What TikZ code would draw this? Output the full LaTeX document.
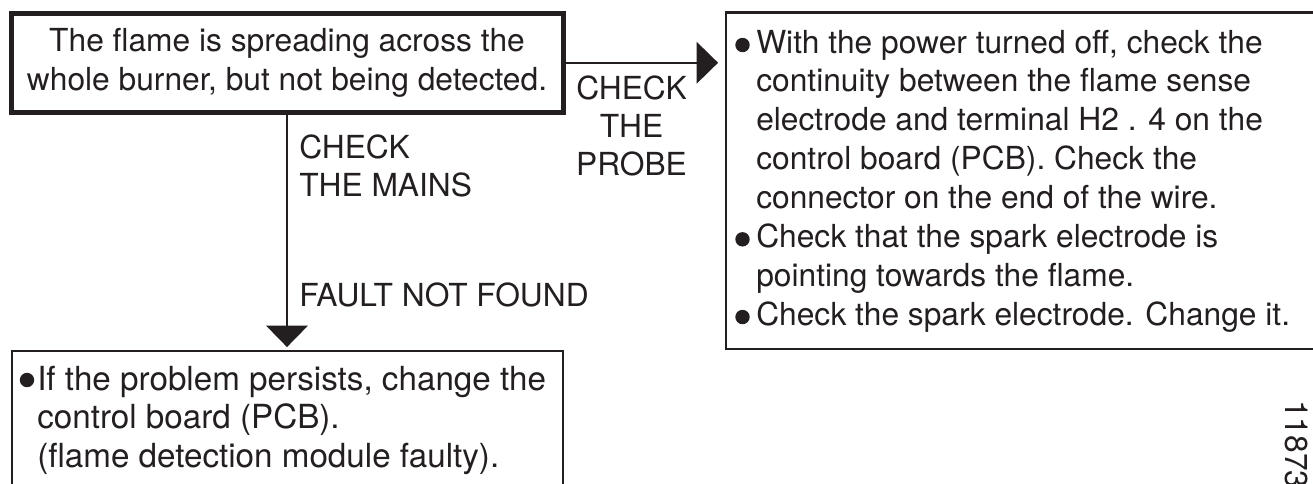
\documentclass[tikz,border=0pt]{standalone}
\usepackage{fontspec}
\setmainfont{TeX Gyre Heros}
\usetikzlibrary{arrows.meta}
\definecolor{ink}{RGB}{35,31,32}
\begin{document}
\begin{tikzpicture}[x=0.75pt,y=-0.75pt,
  txt/.style={inner sep=0pt, text=ink, font=\fontsize{23.8}{29.1}\selectfont},
  bigtxt/.style={inner sep=0pt, text=ink, font=\fontsize{24.9}{29.1}\selectfont},
  thickbox/.style={draw=ink, line width=3.75pt, inner sep=0pt},
  thinbox/.style={draw=ink, line width=1.9pt, inner sep=0pt},
  flow/.style={draw=ink, line width=1.5pt, -{Triangle[length=16pt,width=31pt]}}]
\useasboundingbox (0,0) rectangle (1313,483);
\clip (0,0) rectangle (1313,483);
% boxes
\node[thickbox, txt, minimum width=414pt, minimum height=74.6pt, align=center] (top) at (287,62.75)
  {The flame is spreading across the\\whole burner, but not being detected.};
\node[thinbox, minimum width=453pt, minimum height=252.2pt] (rbox) at (1028,180.85) {};
\node[thinbox, minimum width=413.25pt, minimum height=111.75pt] (bbox) at (287.5,425.5) {};
% connectors
\draw[flow, shorten >=5pt] (top.east) -- (top.east -| rbox.west);
\draw[flow, shorten >=2pt] (top.south) -- (top.south |- bbox.north);
% connector labels
\node[txt, anchor=base] (p1) at (631.5,99) {CHECK};
\node[txt, anchor=base] (p2) at (631.5,137) {THE};
\node[txt, anchor=base] (p3) at (631.5,175) {PROBE};
\node[txt, anchor=base west] (m1) at (299,158) {CHECK};
\node[txt, anchor=base west] (m2) at (299,196) {THE MAINS};
\node[txt, anchor=base west] (f1) at (299,306) {FAULT NOT FOUND};
% right box text
\foreach \t [count=\i from 0] in {
  {With the power turned off, check the},
  {continuity between the flame sense},
  {electrode and terminal H2 . 4 on the},
  {control board (PCB). Check the},
  {connector on the end of the wire.},
  {Check that the spark electrode is},
  {pointing towards the flame.},
  {Check the spark electrode. Change it.}}
  \node[txt, anchor=base west] (r\i) at (756,53+38.86*\i) {\t};
\fill[ink] (742.5,45) circle[radius=5.4pt];
\fill[ink] (742.5,239.3) circle[radius=5.4pt];
\fill[ink] (742.5,317) circle[radius=5.4pt];
% bottom box text
\foreach \t [count=\i from 0] in {
  {If the problem persists, change the},
  {control board (PCB).},
  {(flame detection module faulty).}}
  \node[bigtxt, anchor=base west] (b\i) at (37,390+38.5*\i) {\t};
\fill[ink] (27,380) circle[radius=5.4pt];
% reference number
\node[txt, rotate=-90, anchor=base west] (num) at (1285,400) {11873};
\end{tikzpicture}
\end{document}
